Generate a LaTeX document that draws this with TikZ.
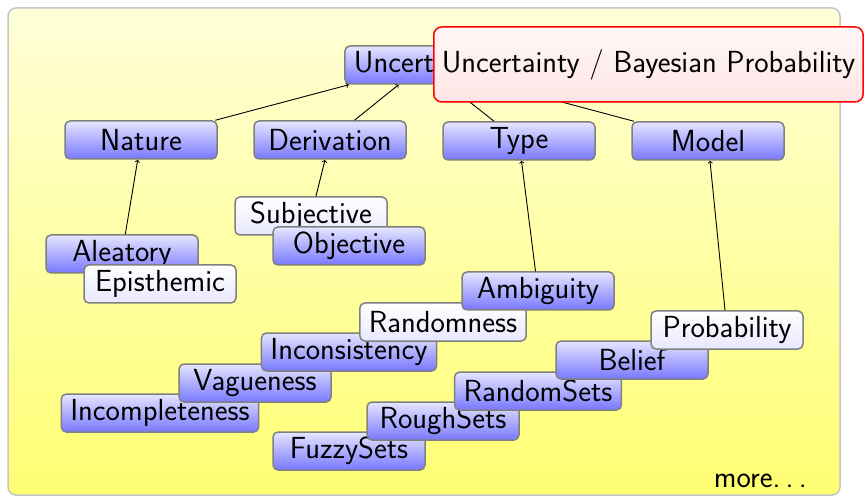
\documentclass[tikz,border=0pt]{standalone}
\usepackage{fontspec}
\begin{document}
\begin{tikzpicture}[x=1pt,y=-1pt,
  font=\sffamily\fontsize{30.5}{34}\selectfont,
  base/.style={rounded corners=5pt, draw=gray, line width=1.5pt, minimum width=152pt,
    minimum height=38pt, inner xsep=9pt, inner ysep=2pt},
  bluebox/.style={base, top color=blue!10, bottom color=blue!53},
  whitebox/.style={base, top color=white, bottom color=blue!9},
  link/.style={->, line width=0.9pt}]
\useasboundingbox (0,0) rectangle (868,497);
\draw[rounded corners=8pt, draw=gray!45, line width=1.5pt, top color=yellow!15, bottom color=yellow!55]
  (8,8) rectangle (840,495);
% top level
\node[bluebox] (unc) at (423,65) {Uncertainty};
\node[bluebox] (nat) at (141,140) {Nature};
\node[bluebox] (der) at (330,140) {Derivation};
\node[bluebox] (typ) at (519,141) {Type};
\node[bluebox] (mod) at (708,141) {Model};
% nature
\node[bluebox] (ale) at (122,254) {Aleatory};
\node[whitebox] (epi) at (160,284) {Episthemic};
% derivation
\node[whitebox] (subj) at (311,216) {Subjective};
\node[bluebox] (obj) at (349,246) {Objective};
% type
\node[bluebox] (incp) at (160,413) {Incompleteness};
\node[bluebox] (vag) at (255,383) {Vagueness};
\node[bluebox] (inc) at (349,352) {Inconsistency};
\node[whitebox] (rnd) at (443,322) {Randomness};
\node[bluebox] (amb) at (538,291) {Ambiguity};
% model
\node[bluebox] (fuz) at (349,451) {FuzzySets};
\node[bluebox] (rgh) at (443,421) {RoughSets};
\node[bluebox] (rs) at (538,391) {RandomSets};
\node[bluebox] (bel) at (632,360) {Belief};
\node[whitebox] (prob) at (727,330) {Probability};
% links
\draw[link] (nat) -- (unc);
\draw[link] (der) -- (unc);
\draw[link] (typ) -- (unc);
\draw[link] (mod) -- (unc);
\draw[link] (ale) -- (nat);
\draw[link] (subj) -- (der);
\draw[link] (amb) -- (typ);
\draw[link] (prob) -- (mod);
\node[anchor=base east, inner sep=0pt] (more) at (807,487) {more.\kern0.17em.\kern0.17em.};
\node[rounded corners=8pt, draw=red, line width=1.5pt, top color=red!3, bottom color=red!10,
  minimum height=75pt, inner xsep=8pt, anchor=west] (tip) at (433,64.5) {Uncertainty / Bayesian Probability};
\end{tikzpicture}
\end{document}
